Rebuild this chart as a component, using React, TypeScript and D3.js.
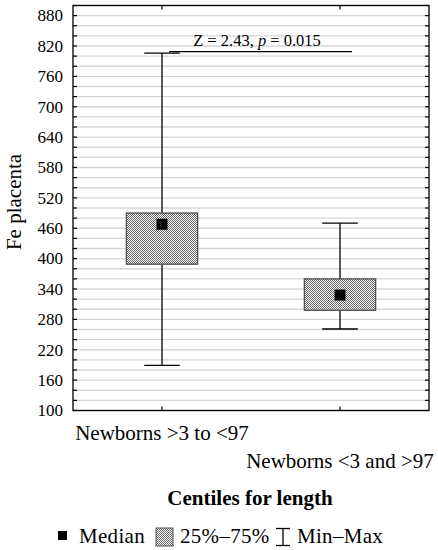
import React from "react"
import { scaleLinear, scalePoint, range } from "d3"

// values
const categories = ["Newborns >3 to <97", "Newborns <3 and >97"]
const medians = [468, 328]
const q1 = [389, 298]
const q3 = [490, 360]
const mins = [189, 261]
const maxs = [806, 470]
const tickLabels = range(100, 881, 60)
const gridValues = range(100, 901, 20)
const sigLevel = 809
const sigText = ["Z = 2.43, ", "p", " = 0.015"]

const W = 438
const H = 550
const left = 73
const right = 429
const top = 5.5
const bottom = 410.5
const font = "'Liberation Serif', 'Times New Roman', serif"

export default function App() {
  const y = scaleLinear().domain([100, 900]).range([bottom, top])
  const x = scalePoint<string>().domain(categories).range([left, right]).padding(0.5)
  const boxW = (right - left) * 0.2
  const capW = boxW / 2

  return (
    <svg width={W} height={H} style={{ position: "absolute", left: 0, top: 0, background: "#fff" }}>
      <defs>
        <pattern id="dots" width="2" height="2" patternUnits="userSpaceOnUse">
          <rect width="2" height="2" fill="#fff" />
          <rect x="0" y="0" width="1" height="1" fill="#666" />
          <rect x="1" y="1" width="1" height="1" fill="#666" />
        </pattern>
      </defs>

      {/* grid lines */}
      {gridValues.map(v => (
        <line key={"g" + v} x1={left} x2={right} y1={y(v)} y2={y(v)} stroke="#d6d6d6" strokeWidth={1.3} />
      ))}

      {/* inner ticks on left and right */}
      {gridValues.map(v => (
        <g key={"t" + v}>
          <line x1={left} x2={left + 4} y1={y(v)} y2={y(v)} stroke="#000" strokeWidth={1.2} />
          <line x1={right - 4} x2={right} y1={y(v)} y2={y(v)} stroke="#000" strokeWidth={1.2} />
        </g>
      ))}
      {categories.map(c => (
        <g key={"ct" + c}>
          <line x1={x(c)} x2={x(c)} y1={top} y2={top + 4} stroke="#000" strokeWidth={1.2} />
          <line x1={x(c)} x2={x(c)} y1={bottom - 4} y2={bottom} stroke="#000" strokeWidth={1.2} />
        </g>
      ))}

      {/* tick labels */}
      {tickLabels.map(v => (
        <text key={"l" + v} x={63} y={y(v)} dy="0.34em" textAnchor="end" fontFamily={font} fontSize={17}>
          {v}
        </text>
      ))}

      {/* boxes */}
      {categories.map((c, i) => {
        const cx = x(c)!
        return (
          <g key={c}>
            <line x1={cx} x2={cx} y1={y(maxs[i])} y2={y(q3[i])} stroke="#000" strokeWidth={1.3} />
            <line x1={cx} x2={cx} y1={y(q1[i])} y2={y(mins[i])} stroke="#000" strokeWidth={1.3} />
            <line x1={cx - capW / 2} x2={cx + capW / 2} y1={y(maxs[i])} y2={y(maxs[i])} stroke="#000" strokeWidth={1.3} />
            <line x1={cx - capW / 2} x2={cx + capW / 2} y1={y(mins[i])} y2={y(mins[i])} stroke="#000" strokeWidth={1.3} />
            <rect x={cx - boxW / 2} y={y(q3[i])} width={boxW} height={y(q1[i]) - y(q3[i])}
              fill="url(#dots)" stroke="#555" strokeWidth={1.4} />
            <rect x={cx - 5.5} y={y(medians[i]) - 5.5} width={11} height={11} fill="#000" />
          </g>
        )
      })}

      {/* significance line */}
      <line x1={x(categories[0])! + 7} x2={x(categories[1])! + 12} y1={y(sigLevel)} y2={y(sigLevel)} stroke="#000" strokeWidth={1.3} />
      <text x={257} y={45.5} textAnchor="middle" fontFamily={font} fontSize={16.5}>
        {sigText[0]}<tspan fontStyle="italic">{sigText[1]}</tspan>{sigText[2]}
      </text>

      {/* frame */}
      <rect x={left} y={top} width={right - left} height={bottom - top} fill="none" stroke="#000" strokeWidth={1.3} />

      {/* axis titles */}
      <text transform="translate(21,202) rotate(-90)" textAnchor="middle" fontFamily={font} fontSize={21}>
        Fe placenta
      </text>
      {categories.map((c, i) => (
        <text key={"cl" + c} x={x(c)} y={i === 0 ? 440 : 468} textAnchor="middle" fontFamily={font} fontSize={21}>
          {c}
        </text>
      ))}
      <text x={250} y={505} textAnchor="middle" fontFamily={font} fontSize={21} fontWeight="bold">
        Centiles for length
      </text>

      {/* legend */}
      <rect x={58} y={531} width={9} height={9} fill="#000" />
      <text x={79} y={543} fontFamily={font} fontSize={21} letterSpacing={0.3}>Median</text>
      <rect x={156} y={528} width={17} height={18} fill="url(#dots)" stroke="#555" strokeWidth={1} />
      <text x={180} y={543} fontFamily={font} fontSize={21} letterSpacing={0.3}>25%–75%</text>
      <line x1={283} x2={283} y1={528.5} y2={545.5} stroke="#000" strokeWidth={1.3} />
      <line x1={276} x2={290} y1={528.5} y2={528.5} stroke="#000" strokeWidth={1.3} />
      <line x1={276} x2={290} y1={545.5} y2={545.5} stroke="#000" strokeWidth={1.3} />
      <text x={297} y={543} fontFamily={font} fontSize={21} letterSpacing={0.3}>Min–Max</text>
    </svg>
  )
}
